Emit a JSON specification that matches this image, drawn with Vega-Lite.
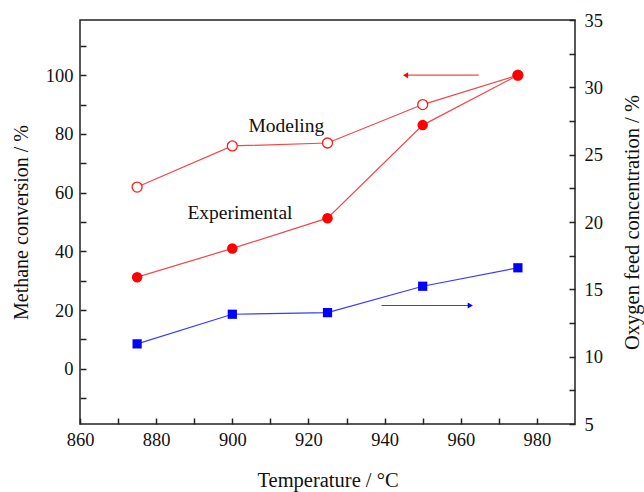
{
  "$schema": "https://vega.github.io/schema/vega-lite/v6.json",
  "width": 495,
  "height": 404,
  "autosize": "none",
  "padding": {"left": 80, "top": 20, "right": 69, "bottom": 68},
  "background": "white",
  "config": {
    "font": "Liberation Serif",
    "view": {"stroke": "#222222", "strokeWidth": 1.5},
    "axis": {
      "grid": false,
      "domain": false,
      "labelFont": "Liberation Serif",
      "labelFontSize": 18.5,
      "labelColor": "#111111",
      "titleFont": "Liberation Serif",
      "titleFontSize": 20,
      "titleFontWeight": "normal",
      "titleColor": "#111111",
      "tickColor": "#222222",
      "tickWidth": 1.5
    }
  },
  "datasets": {
    "main": [
      {"T": 875, "modeling": 61.9, "experimental": 31.2, "oxygen": 10.95},
      {"T": 900, "modeling": 75.9, "experimental": 41.0, "oxygen": 13.15},
      {"T": 925, "modeling": 76.9, "experimental": 51.3, "oxygen": 13.27},
      {"T": 950, "modeling": 90.0, "experimental": 83.0, "oxygen": 15.23},
      {"T": 975, "modeling": 100.0, "experimental": 100.0, "oxygen": 16.6}
    ],
    "labels": [
      {"label": "Modeling", "T": 914.2, "v": 82.7},
      {"label": "Experimental", "T": 902, "v": 53}
    ],
    "redArrow": [{"xs": 964.7, "xe": 945.5, "y": 100}],
    "blueArrow": [{"xs": 939.2, "xe": 962.5, "y": 13.8}]
  },
  "layer": [
    {
      "layer": [
        {
          "data": {"name": "main"},
          "mark": {"type": "line", "color": "#f04848", "strokeWidth": 1.2},
          "encoding": {
            "x": {
              "field": "T", "type": "quantitative",
              "scale": {"domain": [860, 990], "nice": false, "zero": false},
              "axis": {
                "orient": "bottom",
                "values": [860, 870, 880, 890, 900, 910, 920, 930, 940, 950, 960, 970, 980],
                "tickCount": 100,
                "format": "d",
                "labelExpr": "datum.value % 20 === 0 ? datum.label : ''",
                "labelFont": "Liberation Serif",
                "labelFontSize": 18.5,
                "labelFlush": false,
                "labelOverlap": false,
                "tickSize": -6,
                "labelPadding": 12,
                "title": "Temperature / °C",
                "titleFontSize": 20.5,
                "titlePadding": 22,
                "encode": {"ticks": {"y2": {"condition": {"test": "datum.value % 20 === 0", "value": -7}, "value": -4}}}
              }
            },
            "y": {
              "field": "modeling", "type": "quantitative",
              "scale": {"domain": [-18.8, 118.8], "nice": false, "zero": false},
              "axis": {
                "orient": "left",
                "values": [-10, 0, 10, 20, 30, 40, 50, 60, 70, 80, 90, 100, 110],
                "tickCount": 100,
                "format": "d",
                "labelExpr": "datum.value % 20 === 0 ? datum.label : ''",
                "labelFont": "Liberation Serif",
                "labelFontSize": 18.5,
                "labelFlush": false,
                "labelOverlap": false,
                "tickSize": -6,
                "labelPadding": 13,
                "title": "Methane conversion / %",
                "titlePadding": 14,
                "encode": {"ticks": {"x2": {"condition": {"test": "datum.value % 20 === 0", "value": 7}, "value": 4}}}
              }
            }
          }
        },
        {
          "data": {"name": "main"},
          "mark": {"type": "line", "color": "#f04848", "strokeWidth": 1.2},
          "encoding": {
            "x": {"field": "T", "type": "quantitative", "scale": {"domain": [860, 990], "nice": false, "zero": false}},
            "y": {"field": "experimental", "type": "quantitative", "scale": {"domain": [-18.8, 118.8], "nice": false, "zero": false}}
          }
        },
        {
          "data": {"name": "main"},
          "mark": {"type": "point", "shape": "circle", "filled": true, "fill": "white", "stroke": "#ff1a1a", "strokeWidth": 1.3, "size": 100, "opacity": 1},
          "encoding": {
            "x": {"field": "T", "type": "quantitative", "scale": {"domain": [860, 990], "nice": false, "zero": false}},
            "y": {"field": "modeling", "type": "quantitative", "scale": {"domain": [-18.8, 118.8], "nice": false, "zero": false}}
          }
        },
        {
          "data": {"name": "main"},
          "mark": {"type": "point", "shape": "circle", "filled": true, "color": "#ff0000", "size": 110, "opacity": 1},
          "encoding": {
            "x": {"field": "T", "type": "quantitative", "scale": {"domain": [860, 990], "nice": false, "zero": false}},
            "y": {"field": "experimental", "type": "quantitative", "scale": {"domain": [-18.8, 118.8], "nice": false, "zero": false}}
          }
        },
        {
          "data": {"name": "labels"},
          "mark": {"type": "text", "font": "Liberation Serif", "fontSize": 19.5, "color": "#111111", "align": "center", "baseline": "middle"},
          "encoding": {
            "x": {"field": "T", "type": "quantitative", "scale": {"domain": [860, 990], "nice": false, "zero": false}},
            "y": {"field": "v", "type": "quantitative", "scale": {"domain": [-18.8, 118.8], "nice": false, "zero": false}},
            "text": {"field": "label"}
          }
        },
        {
          "data": {"name": "redArrow"},
          "mark": {"type": "rule", "color": "#f04848", "strokeWidth": 1.2},
          "encoding": {
            "x": {"field": "xs", "type": "quantitative", "scale": {"domain": [860, 990], "nice": false, "zero": false}},
            "x2": {"field": "xe"},
            "y": {"field": "y", "type": "quantitative", "scale": {"domain": [-18.8, 118.8], "nice": false, "zero": false}}
          }
        },
        {
          "data": {"name": "redArrow"},
          "mark": {"type": "point", "shape": "triangle-left", "filled": true, "color": "#ff0000", "size": 36, "opacity": 1},
          "encoding": {
            "x": {"field": "xe", "type": "quantitative", "scale": {"domain": [860, 990], "nice": false, "zero": false}},
            "y": {"field": "y", "type": "quantitative", "scale": {"domain": [-18.8, 118.8], "nice": false, "zero": false}}
          }
        }
      ]
    },
    {
      "layer": [
        {
          "data": {"name": "main"},
          "mark": {"type": "line", "color": "#3a3aff", "strokeWidth": 1.2},
          "encoding": {
            "x": {"field": "T", "type": "quantitative", "scale": {"domain": [860, 990], "nice": false, "zero": false}},
            "y": {
              "field": "oxygen", "type": "quantitative",
              "scale": {"domain": [5, 35], "nice": false, "zero": false},
              "axis": {
                "orient": "right",
                "values": [5, 7.5, 10, 12.5, 15, 17.5, 20, 22.5, 25, 27.5, 30, 32.5, 35],
                "tickCount": 100,
                "format": "d",
                "labelExpr": "datum.value % 5 === 0 ? datum.label : ''",
                "labelFont": "Liberation Serif",
                "labelFontSize": 18.5,
                "labelFlush": false,
                "labelOverlap": false,
                "tickSize": -6,
                "labelPadding": 15,
                "title": "Oxygen feed concentration / %",
                "titleFontSize": 20.5,
                "titleAngle": 270,
                "titleBaseline": "top",
                "titlePadding": 20,
                "encode": {"ticks": {"x2": {"condition": {"test": "datum.value % 5 === 0", "value": -7}, "value": -4}}}
              }
            }
          }
        },
        {
          "data": {"name": "main"},
          "mark": {"type": "point", "shape": "square", "filled": true, "color": "#0000ff", "size": 85, "opacity": 1},
          "encoding": {
            "x": {"field": "T", "type": "quantitative", "scale": {"domain": [860, 990], "nice": false, "zero": false}},
            "y": {"field": "oxygen", "type": "quantitative", "scale": {"domain": [5, 35], "nice": false, "zero": false}}
          }
        },
        {
          "data": {"name": "blueArrow"},
          "mark": {"type": "rule", "color": "#3a3aff", "strokeWidth": 1.2},
          "encoding": {
            "x": {"field": "xs", "type": "quantitative", "scale": {"domain": [860, 990], "nice": false, "zero": false}},
            "x2": {"field": "xe"},
            "y": {"field": "y", "type": "quantitative", "scale": {"domain": [5, 35], "nice": false, "zero": false}}
          }
        },
        {
          "data": {"name": "blueArrow"},
          "mark": {"type": "point", "shape": "triangle-right", "filled": true, "color": "#0000ff", "size": 36, "opacity": 1},
          "encoding": {
            "x": {"field": "xe", "type": "quantitative", "scale": {"domain": [860, 990], "nice": false, "zero": false}},
            "y": {"field": "y", "type": "quantitative", "scale": {"domain": [5, 35], "nice": false, "zero": false}}
          }
        }
      ]
    }
  ],
  "resolve": {"scale": {"y": "independent"}}
}
